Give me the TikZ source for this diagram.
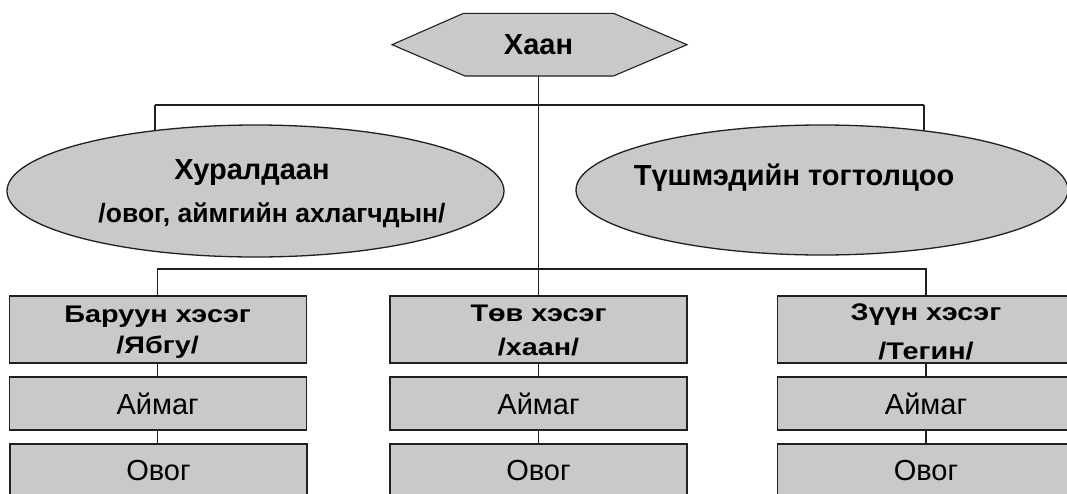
\documentclass[tikz,border=0pt]{standalone}
\usepackage{fontspec}
\setmainfont{Liberation Sans}
\newfontfamily\hdrfont[FakeStretch=1.2]{Liberation Sans}
\usetikzlibrary{shapes.geometric,backgrounds}
\definecolor{boxfill}{RGB}{200,201,203}
\definecolor{ink}{RGB}{35,31,32}
\tikzset{
  shapefill/.style={fill=boxfill, draw=ink, line width=1.3pt},
  ovalbox/.style={shapefill, ellipse, inner sep=0pt},
  headbox/.style={shapefill, rectangle, minimum width=297pt, minimum height=67pt, inner sep=0pt, align=center,
    font=\hdrfont\bfseries\fontsize{24}{31}\selectfont},
  subbox/.style={shapefill, rectangle, minimum width=297pt, minimum height=53pt, inner sep=0pt,
    font=\fontsize{29}{34}\selectfont},
  bigtext/.style={font=\bfseries\fontsize{29}{34}\selectfont, inner sep=0pt, anchor=base},
  link/.style={draw=ink, line width=1.1pt},
}
\begin{document}
\begin{tikzpicture}[x=1pt,y=-1pt]
\useasboundingbox (0,0) rectangle (1067,493);
\clip (0,0) rectangle (1067,493);
% hexagon (king)
\draw[fill=boxfill, draw=ink, line width=1.1pt] (392,44.7) -- (463.5,13.3) -- (613.5,13.3) -- (687,44.7) -- (613.5,76) -- (465,76) -- cycle;
\node[minimum width=150pt, minimum height=62.7pt, inner sep=0pt, font=\bfseries\fontsize{29}{34}\selectfont] (king) at (538.5,44.7) {Хаан};
% ellipses
\node[ovalbox, minimum width=497pt, minimum height=132pt] (hural) at (255.5,191) {};
\node[ovalbox, minimum width=492pt, minimum height=130pt] (tush) at (822,190) {};
\node[bigtext] (hurA) at (252,179) {Хуралдаан};
\node[bigtext, font=\bfseries\fontsize{26.5}{34}\selectfont] (hurB) at (272,222) {/овог, аймгийн ахлагчдын/};
\node[bigtext] (tushT) at (794,185) {Түшмэдийн тогтолцоо};
% column headers
\node[headbox] (lhead) at (157.7,329.5) {\rule{0pt}{22.3pt}Баруун хэсэг\\/Ябгу/};
\node[headbox] (mhead) at (538.5,329.5) {\rule{0pt}{19.3pt}Төв хэсэг\\[3pt]/хаан/};
\node[headbox] (rhead) at (926,329.5) {\rule{0pt}{21pt}Зүүн хэсэг\\[8pt]/Тегин/};
% aimag
\node[subbox] (laim) at (157.7,403.5) {Аймаг};
\node[subbox] (maim) at (538.5,403.5) {Аймаг};
\node[subbox] (raim) at (926,403.5) {Аймаг};
% ovog
\node[subbox] (lovog) at (158.5,470.5) {Овог};
\node[subbox] (movog) at (538.5,470.5) {Овог};
\node[subbox] (rovog) at (926,470.5) {Овог};
% connectors
\coordinate (busL) at (155,105);
\coordinate (busR) at (924,105);
\coordinate (bus2) at (0,269);
\begin{pgfonlayer}{background}
  \draw[link] (busL) -- (busR);
  \draw[link] (busL) -- (busL |- hural.center);
  \draw[link] (busR) -- (busR |- tush.center);
  \draw[link] (king.south) -- (mhead.north);
  \draw[link] (lhead.north) -- (lhead.north |- bus2) -- (rhead.north |- bus2) -- (rhead.north);
\end{pgfonlayer}
\draw[link] (lhead.south) -- (laim.north);
\draw[link] (laim.south) -- (laim.south |- lovog.north);
\draw[link] (mhead.south) -- (maim.north);
\draw[link] (maim.south) -- (movog.north);
\draw[link] (rhead.south) -- (raim.north);
\draw[link] (raim.south) -- (rovog.north);
\end{tikzpicture}
\end{document}
